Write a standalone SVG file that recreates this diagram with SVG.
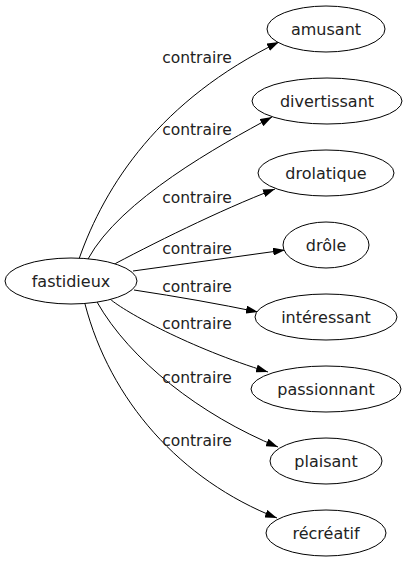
<svg xmlns="http://www.w3.org/2000/svg" width="407" height="563" viewBox="0 0 407 563">
<style>
  .node ellipse { fill: #ffffff; stroke: #000000; stroke-width: 1; }
  .node text { font-family: "DejaVu Sans", sans-serif; font-size: 16px; fill: #222222; text-anchor: middle; }
  .edges path { fill: none; stroke: #000000; stroke-width: 1; marker-end: url(#arr); }
  .edges text { font-family: "DejaVu Sans", sans-serif; font-size: 15.5px; fill: #222222; text-anchor: middle; }
</style>
<defs>
  <marker id="arr" viewBox="0 0 12 8" refX="12" refY="4" markerWidth="12" markerHeight="8" orient="auto" markerUnits="userSpaceOnUse">
    <path d="M0,0 L12,4 L0,8 z" fill="#000000"/>
  </marker>
</defs>
<rect width="407" height="563" fill="#ffffff"/>
<g class="edges" id="edges">
  <path d="M79 259 C105 185, 160 100, 279 42"/>
  <text x="197" y="63">contraire</text>
  <path d="M88 259 C120 200, 220 145, 272 117"/>
  <text x="197" y="135">contraire</text>
  <path d="M107 268 C150 245, 220 210, 275 189"/>
  <text x="197" y="203">contraire</text>
  <path d="M133 271 L285 250"/>
  <text x="197" y="254">contraire</text>
  <path d="M134 290 Q200 300, 258 312"/>
  <text x="197" y="292">contraire</text>
  <path d="M110 299 C125 312, 190 348, 268 372"/>
  <text x="197" y="329">contraire</text>
  <path d="M97 302 C130 360, 200 415, 278 447"/>
  <text x="197" y="383">contraire</text>
  <path d="M85 304 C110 400, 180 480, 277 518"/>
  <text x="197" y="446">contraire</text>
</g>
<g class="node" id="fastidieux"><ellipse cx="71" cy="281" rx="66" ry="23"/><text x="71" y="287">fastidieux</text></g>
<g class="node" id="amusant"><ellipse cx="326" cy="29" rx="59" ry="23"/><text x="326" y="35">amusant</text></g>
<g class="node" id="divertissant"><ellipse cx="327" cy="101" rx="75" ry="23"/><text x="327" y="107">divertissant</text></g>
<g class="node" id="drolatique"><ellipse cx="326" cy="173" rx="68" ry="23"/><text x="326" y="179">drolatique</text></g>
<g class="node" id="drole"><ellipse cx="326" cy="245" rx="43" ry="23"/><text x="326" y="251">drôle</text></g>
<g class="node" id="interessant"><ellipse cx="326" cy="317" rx="71" ry="23"/><text x="326" y="323">intéressant</text></g>
<g class="node" id="passionnant"><ellipse cx="326" cy="389" rx="75" ry="23"/><text x="326" y="395">passionnant</text></g>
<g class="node" id="plaisant"><ellipse cx="326" cy="461" rx="56" ry="23"/><text x="326" y="467">plaisant</text></g>
<g class="node" id="recreatif"><ellipse cx="326" cy="533" rx="60" ry="23"/><text x="326" y="539">récréatif</text></g>
</svg>
